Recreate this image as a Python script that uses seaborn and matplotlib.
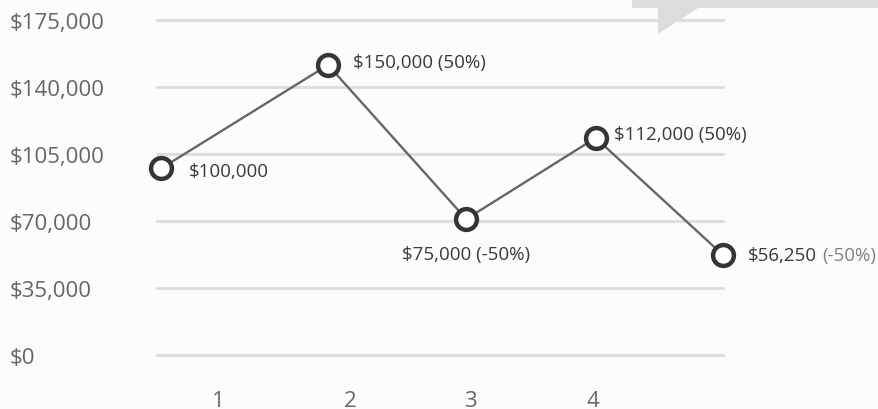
import matplotlib
matplotlib.use("Agg")
import matplotlib.pyplot as plt
import seaborn as sns
import pandas as pd
from matplotlib.patches import Polygon

# ---- data ----
periods = [0.52, 1.86, 2.97, 4.01, 5.03]
values = [97500, 151500, 71000, 113400, 52400]
point_labels = ["$100,000", "$150,000 (50%)", "$75,000 (-50%)", "$112,000 (50%)", "$56,250"]
point_notes = ["", "", "", "", "(-50%)"]
y_ticks = [0, 35000, 70000, 105000, 140000, 175000]
y_tick_labels = ["$0", "$35,000", "$70,000", "$105,000", "$140,000", "$175,000"]
x_ticks = [0.976, 2.036, 3.0, 3.988]
x_tick_labels = ["1", "2", "3", "4"]

# ---- layout (offsets in points for each label) ----
label_offsets = [(20, -2), (18, 2), (0, -25), (13.5, 3), (18, 0)]
label_ha = ["left", "left", "center", "left", "left"]

sns.set_theme(style="white")
plt.rcParams["font.family"] = ["Open Sans", "DejaVu Sans"]

W, H = 879, 410
bg = "#fcfcfc"
fig = plt.figure(figsize=(W / 100, H / 100), dpi=100, facecolor=bg)
ax = fig.add_axes([157 / W, 54 / H, 566 / W, 335 / H])
ax.set_facecolor(bg)

df = pd.DataFrame({"period": periods, "value": values})
sns.lineplot(data=df, x="period", y="value", ax=ax, sort=False,
             color="#666666", linewidth=1.7, marker="o", markersize=15,
             markerfacecolor="white", markeredgecolor="#353535",
             markeredgewidth=3.2, clip_on=False, zorder=3)

ax.set_xlim(0.486, 5.033)
ax.set_ylim(0, 175000)
ax.set_yticks(y_ticks)
ax.set_yticklabels(y_tick_labels)
ax.set_xticks(x_ticks)
ax.set_xticklabels(x_tick_labels)
ax.set_xlabel("")
ax.set_ylabel("")
ax.grid(axis="y", color="#dedede", linewidth=2.2)
ax.grid(axis="x", visible=False)
for gl in ax.yaxis.get_gridlines():
    gl.set_clip_on(False)
sns.despine(ax=ax, left=True, bottom=True)
ax.tick_params(axis="y", length=0, pad=106, labelsize=16, labelcolor="#666666")
for lbl in ax.get_yticklabels():
    lbl.set_ha("left")
ax.tick_params(axis="x", length=0, pad=25, labelsize=16, labelcolor="#666666")

for x, y, txt, note, off, ha in zip(periods, values, point_labels, point_notes,
                                    label_offsets, label_ha):
    t = ax.annotate(txt, xy=(x, y), xytext=off, textcoords="offset points",
                    ha=ha, va="center", fontsize=13.5, color="#3a3a3a",
                    annotation_clip=False, zorder=4)
    if note:
        ax.annotate(note, xy=(1, 0.5), xycoords=t, xytext=(4, 0),
                    textcoords="offset points", ha="left", va="center",
                    fontsize=13.5, color="#808080", annotation_clip=False)

# grey callout shape in the top-right corner
pts_px = [(632, 0), (879, 0), (879, 9), (698, 9), (658, 35), (658, 9), (632, 9)]
poly = Polygon([(px / W, 1 - py / H) for px, py in pts_px], closed=True,
               transform=fig.transFigure, facecolor="#dcdcdc",
               edgecolor="none", zorder=5)
fig.patches.append(poly)

fig.savefig("out.png", dpi=100, facecolor=bg)
